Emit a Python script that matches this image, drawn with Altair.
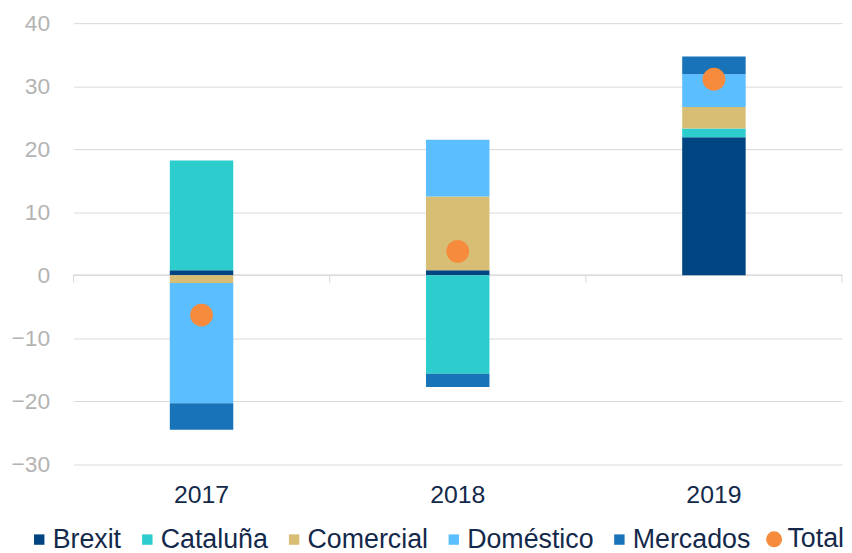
import altair as alt
import pandas as pd

years = ["2017", "2018", "2019"]
series = ["Brexit", "Cataluña", "Comercial", "Doméstico", "Mercados"]
brexit = [0.8, 0.8, 21.9]
cataluna = [17.4, -15.6, 1.4]
comercial = [-1.2, 11.7, 3.4]
domestico = [-19.1, 9.0, 5.2]
mercados = [-4.2, -2.1, 2.8]
total = [-6.3, 3.8, 31.1]
colors = ["#004481", "#2DCCCD", "#D8BE75", "#5BBEFF", "#1973B8"]
total_color = "#F78B3D"
y_ticks = [-30, -20, -10, 0, 10, 20, 30, 40]

rows = []
for s_i, (name, vals) in enumerate(zip(series, [brexit, cataluna, comercial, domestico, mercados])):
    for y_i, yr in enumerate(years):
        rows.append({"year": yr, "serie": name, "value": vals[y_i], "ord": s_i})
bars_df = pd.DataFrame(rows)
tot_df = pd.DataFrame({"year": years, "value": total, "serie": ["Total"] * 3})
tick_df = pd.DataFrame({"pos": [0, 1, 2, 3]})

FONT = "Liberation Sans"
W, H = 775, 445
yscale = alt.Scale(domain=[-30, 40], nice=False, zero=False)

zero_line = alt.Chart(tick_df).mark_rule(color="#D9D9D9", strokeWidth=1).encode(
    x=alt.value(0), x2=alt.value(W), y=alt.datum(0, scale=yscale)
)
ticks = alt.Chart(tick_df).mark_rule(color="#D9D9D9", strokeWidth=1).encode(
    x=alt.X("pos:Q", scale=alt.Scale(domain=[0, 3], nice=False, zero=False), axis=None),
    y=alt.datum(0),
    y2=alt.datum(-1.15),
)

bars = alt.Chart(bars_df).mark_bar(size=64).encode(
    x=alt.X("year:N", sort=years, title=None,
            scale=alt.Scale(paddingInner=0, paddingOuter=0),
            axis=alt.Axis(domain=False, ticks=False, grid=False, labelAngle=0,
                          labelFontSize=25, labelColor="#13294B", labelFont=FONT,
                          labelPadding=18)),
    y=alt.Y("value:Q", stack="zero", scale=yscale, title=None,
            axis=alt.Axis(values=y_ticks, grid=True, gridColor="#D9D9D9", domain=False,
                          ticks=False, labelFontSize=23, labelColor="#B3B3B3",
                          labelFont=FONT, labelPadding=24)),
    color=alt.Color("serie:N", scale=alt.Scale(domain=series, range=colors),
                    sort=series,
                    legend=alt.Legend(title=None, orient="none", direction="horizontal",
                                      columns=5, legendX=-48, legendY=507,
                                      symbolType="square", symbolSize=110,
                                      symbolStrokeWidth=0, labelFontSize=27,
                                      labelFont=FONT, labelColor="#13294B",
                                      labelOffset=0, columnPadding=12, padding=0)),
    order=alt.Order("ord:Q"),
)

points = alt.Chart(tot_df).mark_circle(size=530, opacity=1).encode(
    x=alt.X("year:N", sort=years, axis=None),
    y=alt.Y("value:Q", scale=yscale),
    fill=alt.Fill("serie:N", scale=alt.Scale(domain=["Total"], range=[total_color]),
                  legend=alt.Legend(title=None, orient="none", legendX=693, legendY=507,
                                    symbolType="circle", symbolSize=260,
                                    labelFontSize=27, labelFont=FONT,
                                    labelColor="#13294B", labelOffset=0, padding=0)),
)

chart = alt.layer(zero_line, ticks, bars, points).resolve_scale(x="independent").properties(
    width=W, height=H,
    autosize=alt.AutoSizeParams(type="none"),
    padding={"left": 66, "top": 13, "right": 2, "bottom": 87},
).configure_view(stroke=None)

chart.save("out.html", embed_options={"renderer": "svg", "actions": False})
